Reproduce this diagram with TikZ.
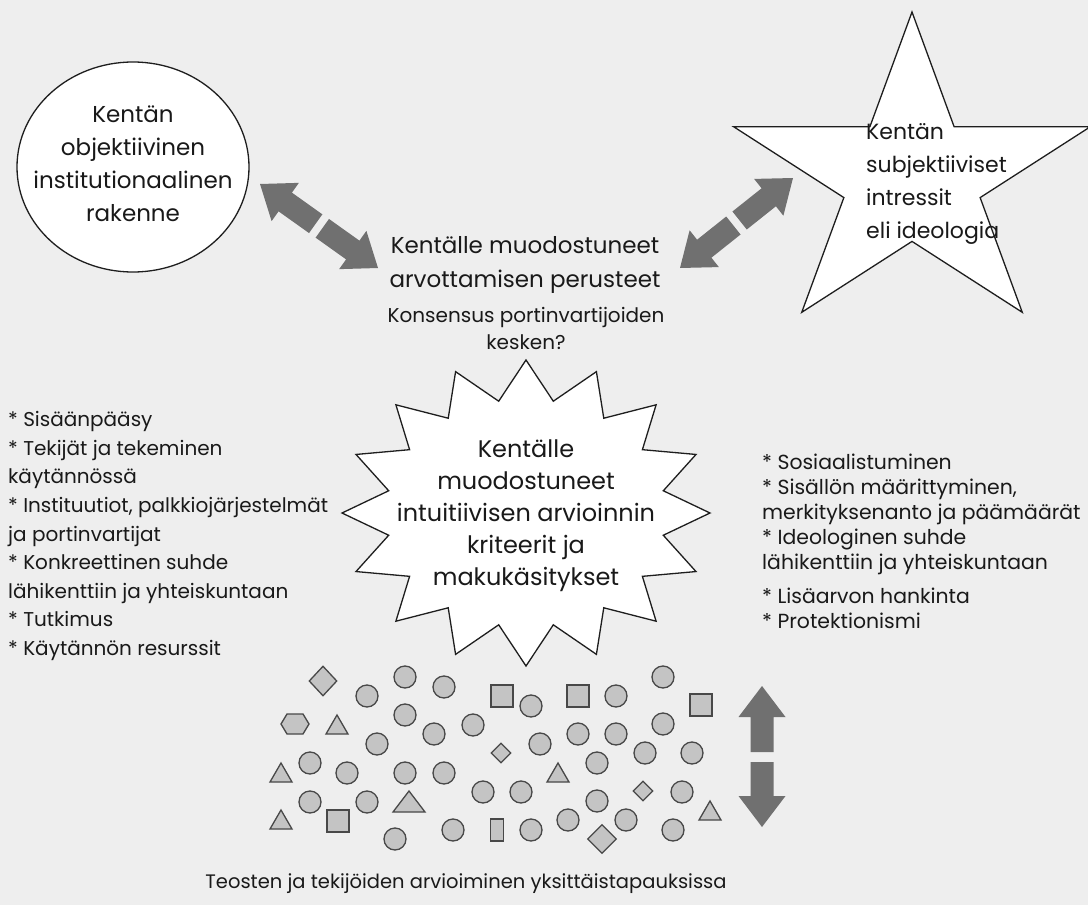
\documentclass[tikz,border=0pt]{standalone}
\usepackage{fontspec}
\setmainfont{Poppins}
\usetikzlibrary{calc,shapes.geometric}

\definecolor{bggray}{RGB}{238,238,238}
\definecolor{arrowgray}{RGB}{112,112,112}
\definecolor{dotgray}{RGB}{196,196,196}
\definecolor{dotline}{RGB}{72,72,72}
\definecolor{inkline}{RGB}{30,30,30}
\definecolor{ink}{RGB}{25,25,25}

% block arrow from a tail coordinate to a tip coordinate
\newcommand\blockarrow[2]{%
  \path ($(#2)!31pt!(#1)$) coordinate (ba-base);
  \fill[arrowgray]
    ($(#1)!11.5pt!90:(#2)$) -- ($(ba-base)!11.5pt!90:(#2)$) --
    ($(ba-base)!23.5pt!90:(#2)$) -- (#2) --
    ($(ba-base)!23.5pt!-90:(#2)$) -- ($(ba-base)!11.5pt!-90:(#2)$) --
    ($(#1)!11.5pt!-90:(#2)$) -- cycle;}

\tikzset{
  bigshape/.style={draw=inkline, fill=white, line width=1.3pt},
  txt/.style={text=ink, inner sep=0pt},
  shp/.style={draw=dotline, fill=dotgray, line width=1.3pt},
  dot/.style={shp, circle, minimum size=22pt, inner sep=0pt},
  sqr/.style={shp, rectangle, minimum width=22pt, minimum height=22pt, inner sep=0pt},
  bar/.style={shp, rectangle, minimum width=13pt, minimum height=22pt, inner sep=0pt},
  dia/.style={shp, diamond, minimum width=28pt, minimum height=30pt, inner sep=0pt},
  smalldia/.style={shp, diamond, minimum width=20pt, minimum height=20pt, inner sep=0pt},
  tri/.pic={\draw[shp] (0,-10) -- (-11,9) -- (11,9) -- cycle;},
  bigtri/.pic={\draw[shp] (0,-11) -- (-16,10) -- (16,10) -- cycle;},
  hexa/.pic={\draw[shp] (-14,0) -- (-8,-10) -- (8,-10) -- (14,0) -- (8,10) -- (-8,10) -- cycle;},
}

\begin{document}
\begin{tikzpicture}[x=1pt,y=-1pt]
\fill[bggray] (0,0) rectangle (1088,905);
\useasboundingbox (0,0) rectangle (1088,905);

% objective structure
\node[bigshape, ellipse, minimum width=232pt, minimum height=210pt, inner sep=0pt] (objective) at (133,167) {};
\node[txt, align=center, font=\fontsize{23}{33}\selectfont] (objectivetext) at (133,164)
  {Kentän\\objektiivinen\\institutionaalinen\\rakenne};

% subjective interests star
\draw[bigshape] (912,12)
  \foreach \k in {1,...,9} {
    -- ({912+1.13*(mod(\k,2)==0 ? 166 : 63.4)*cos(90+36*\k)},
        {178-(mod(\k,2)==0 ? 166 : 63.4)*sin(90+36*\k)})
  } -- cycle;
\node[txt, anchor=west, align=left, font=\fontsize{22}{32.7}\selectfont] (subjective) at (866,184)
  {Kentän\\subjektiiviset\\intressit\\eli ideologia};

% evaluation criteria
\node[txt, align=center, font=\fontsize{23}{34}\selectfont] (criteria) at (525,265)
  {Kentälle muodostuneet\\arvottamisen perusteet};
\node[txt, align=center, font=\fontsize{20}{27}\selectfont] (consensus) at (526,328)
  {Konsensus portinvartijoiden\\kesken?};

% intuitive criteria burst
\draw[bigshape] (526,360)
  \foreach \k in {1,...,31} {
    -- ({526+(mod(\k,2)==0 ? 184 : 140)*cos(90+11.25*\k)},
        {513-(mod(\k,2)==0 ? 153 : 114)*sin(90+11.25*\k)})
  } -- cycle;
\node[txt, align=center, font=\fontsize{24}{32}\selectfont] (intuitive) at (526,516)
  {Kentälle\\muodostuneet\\intuitiivisen arvioinnin\\kriteerit ja\\makukäsitykset};

% side lists
\node[txt, anchor=west, align=left, font=\fontsize{20}{28.6}\selectfont] (leftlist) at (8,536)
  {* Sisäänpääsy\\* Tekijät ja tekeminen\\käytännössä\\* Instituutiot, palkkiojärjestelmät\\ja portinvartijat\\* Konkreettinen suhde\\lähikenttiin ja yhteiskuntaan\\* Tutkimus\\* Käytännön resurssit};
\node[txt, anchor=west, align=left, font=\fontsize{20.4}{25}\selectfont] (rightlist) at (762,541)
  {* Sosiaalistuminen\\* Sisällön määrittyminen,\\merkityksenanto ja päämäärät\\* Ideologinen suhde\\lähikenttiin ja yhteiskuntaan\\[9pt]* Lisäarvon hankinta\\* Protektionismi};

% caption
\node[txt, font=\fontsize{19.5}{24}\selectfont] (cases) at (466,884)
  {Teosten ja tekijöiden arvioiminen yksittäistapauksissa};

% double arrows
\coordinate (a1tail) at (315.7,223.7); \coordinate (a1tip) at (260,184);
\coordinate (a2tail) at (322.3,228.3); \coordinate (a2tip) at (378,268);
\coordinate (b1tail) at (739.6,220.5); \coordinate (b1tip) at (793,178);
\coordinate (b2tail) at (733.4,225.5); \coordinate (b2tip) at (680,268);
\coordinate (c1tail) at (762,752);     \coordinate (c1tip) at (762,686);
\coordinate (c2tail) at (762,762);     \coordinate (c2tip) at (762,827);
\blockarrow{a1tail}{a1tip}
\blockarrow{a2tail}{a2tip}
\blockarrow{b1tail}{b1tip}
\blockarrow{b2tail}{b2tip}
\blockarrow{c1tail}{c1tip}
\blockarrow{c2tail}{c2tip}

% individual works and makers
\foreach \p [count=\i] in {(367,696),(405,677),(444,687),(531,706),(616,696),(663,677),
    (405,715),(377,744),(434,734),(473,725),(540,744),(578,734),(616,734),(663,724),
    (645,753),(692,753),(597,763),(310,763),(347,773),(405,773),(444,773),(483,792),
    (521,792),(597,801),(682,792),(310,802),(367,802),(568,820),(626,820),(453,830),
    (531,830),(673,830),(395,839)}
  \node[dot] (dot\i) at \p {};
\foreach \p [count=\i] in {(502,696),(578,696),(701,705),(338,821)}
  \node[sqr] (sqr\i) at \p {};
\node[bar] (bar1) at (497,830) {};
\node[dia] (dia1) at (323,681) {};
\node[dia, minimum width=29pt, minimum height=29pt] (dia2) at (602,839) {};
\node[smalldia] (sdia1) at (501,753) {};
\node[smalldia] (sdia2) at (643,791) {};
\foreach \p in {(337,725),(281,773),(558,773),(281,820),(710,811)}
  \pic at \p {tri};
\pic at (409,802) {bigtri};
\pic at (295,724) {hexa};
\end{tikzpicture}
\end{document}
